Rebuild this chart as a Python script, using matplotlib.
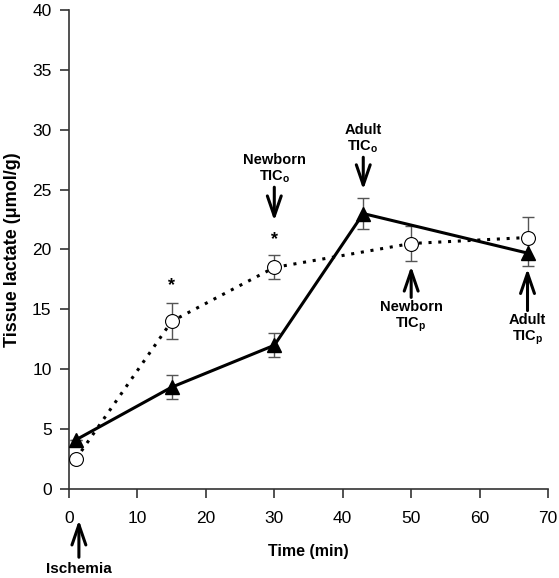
import matplotlib
matplotlib.use("Agg")
import matplotlib.pyplot as plt

plt.rcParams['font.family'] = ['Liberation Sans', 'DejaVu Sans']

# adult (triangles, solid)
adult_t = [1, 15, 30, 43, 67]
adult_y = [4.1, 8.5, 12.0, 23.0, 19.7]
adult_err = [0, 1.0, 1.0, 1.3, 1.1]

# newborn (circles, dotted)
newborn_t = [1, 15, 30, 50, 67]
newborn_y = [2.5, 14.0, 18.5, 20.5, 21.0]
newborn_err = [0, 1.5, 1.0, 1.45, 1.7]

star_t = [15, 30]
star_y = [17.0, 20.8]

fig = plt.figure(figsize=(5.59, 5.78), dpi=100)
ax = fig.add_axes([0.1234, 0.154, 0.857, 0.8287])

ax.errorbar(newborn_t, newborn_y, yerr=newborn_err, fmt='none', ecolor='#555555',
            elinewidth=1, capsize=4, capthick=1, zorder=2)
ax.errorbar(adult_t, adult_y, yerr=adult_err, fmt='none', ecolor='#555555',
            elinewidth=1, capsize=4, capthick=1, zorder=2)
ax.plot(newborn_t, newborn_y, linestyle=(0, (1, 2.2)), color='black', lw=2.2,
        marker='o', markersize=10, markerfacecolor='white', markeredgecolor='black',
        markeredgewidth=0.8, zorder=3)
ax.plot(adult_t, adult_y, linestyle='-', color='black', lw=2.2,
        marker='^', markersize=9.5, markerfacecolor='black', zorder=4)

for t, y in zip(star_t, star_y):
    ax.text(t, y, '*', ha='center', va='center', fontsize=13, fontweight='bold')

ax.set_xlim(0, 70)
ax.set_ylim(0, 40)
ax.set_xticks(range(0, 71, 10))
ax.set_yticks(range(0, 41, 5))
ax.spines['top'].set_visible(False)
ax.spines['right'].set_visible(False)
for s in ['left', 'bottom']:
    ax.spines[s].set_linewidth(1.2)
    ax.spines[s].set_color('#333333')
ax.tick_params(labelsize=12.5, length=6.5, width=1.2, color='#333333', pad=6)
ax.tick_params(axis='x', pad=9)
ax.set_xlabel('Time (min)', fontsize=11.5, fontweight='bold', labelpad=13)
ax.set_ylabel('Tissue lactate (μmol/g)', fontsize=13, fontweight='bold', labelpad=8)

arrow = dict(arrowstyle='->,head_length=1.45,head_width=0.5', lw=2.2, color='black',
             shrinkA=0, shrinkB=0)
ax.annotate('', xy=(1.45, -2.6), xytext=(1.45, -5.7), xycoords='data', arrowprops=arrow,
            annotation_clip=False)
ax.text(1.45, -6.1, 'Ischemia', ha='center', va='top', fontsize=11, fontweight='bold',
        clip_on=False)

ax.annotate('', xy=(30, 22.4), xytext=(30, 25.2), arrowprops=arrow)
ax.text(30, 25.4, 'Newborn\nTIC$_\\mathregular{o}$', ha='center', va='bottom',
        fontsize=10.5, fontweight='bold', linespacing=1.1)

ax.annotate('', xy=(43, 25.0), xytext=(43, 27.7), arrowprops=arrow)
ax.text(43, 27.9, 'Adult\nTIC$_\\mathregular{o}$', ha='center', va='bottom',
        fontsize=10.5, fontweight='bold', linespacing=1.1)

ax.annotate('', xy=(50, 18.6), xytext=(50, 16.0), arrowprops=arrow)
ax.text(50, 15.8, 'Newborn\nTIC$_\\mathregular{p}$', ha='center', va='top',
        fontsize=10.5, fontweight='bold', linespacing=1.1)

ax.annotate('', xy=(67, 18.4), xytext=(67, 14.9), arrowprops=arrow)
ax.text(67, 14.7, 'Adult\nTIC$_\\mathregular{p}$', ha='center', va='top',
        fontsize=10.5, fontweight='bold', linespacing=1.1)

fig.savefig('out.png', dpi=100)
